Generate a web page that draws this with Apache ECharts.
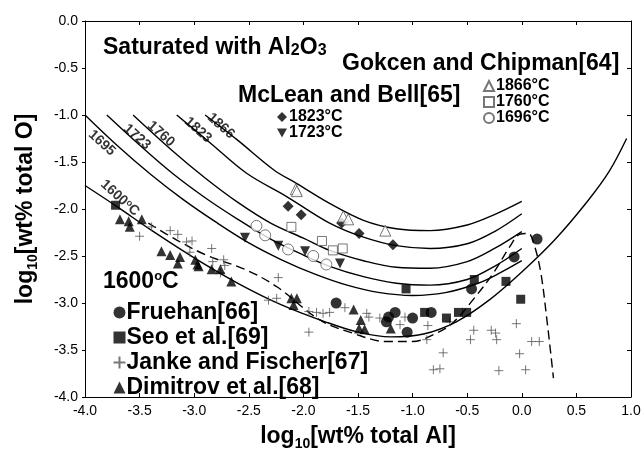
<!DOCTYPE html>
<html>
<head>
<meta charset="utf-8">
<script src="https://cdn.jsdelivr.net/npm/echarts@6/dist/echarts.min.js"></script>
<style>
  html, body { margin: 0; padding: 0; background: #fff; }
  #chart { width: 644px; height: 449px; }
</style>
</head>
<body>
<div id="chart"></div>
<script>
// Iso-temperature curves of Al2O3 deoxidation equilibrium: [log Al, log O]
const curve1866 = [[-2.90,-1.0],[-2.60,-1.27],[-2.27,-1.585],[-2.06,-1.73],[-1.76,-1.94],[-1.45,-2.12],[-1.15,-2.21],[-0.84,-2.23],[-0.50,-2.17],[-0.25,-2.06],[0.0,-1.92]];
const curve1823 = [[-3.16,-1.0],[-2.85,-1.30],[-2.52,-1.62],[-2.15,-1.87],[-1.76,-2.15],[-1.45,-2.30],[-1.15,-2.39],[-0.84,-2.42],[-0.50,-2.37],[-0.25,-2.24],[0.0,-2.05]];
const curve1760 = [[-3.56,-1.0],[-3.20,-1.38],[-2.90,-1.67],[-2.60,-1.93],[-2.30,-2.15],[-2.00,-2.31],[-1.76,-2.44],[-1.45,-2.55],[-1.15,-2.62],[-0.84,-2.63],[-0.50,-2.56],[-0.25,-2.42],[0.0,-2.24]];
const curve1723 = [[-3.80,-1.0],[-3.50,-1.32],[-3.20,-1.62],[-2.90,-1.88],[-2.60,-2.11],[-2.30,-2.32],[-2.00,-2.49],[-1.76,-2.61],[-1.45,-2.72],[-1.15,-2.79],[-0.84,-2.81],[-0.50,-2.75],[-0.25,-2.61],[0.0,-2.42]];
const curve1695 = [[-4.00,-1.0],[-3.70,-1.33],[-3.40,-1.63],[-3.10,-1.90],[-2.80,-2.14],[-2.50,-2.36],[-2.20,-2.54],[-1.90,-2.69],[-1.60,-2.81],[-1.30,-2.89],[-1.00,-2.92],[-0.70,-2.89],[-0.40,-2.79],[-0.20,-2.68],[0.0,-2.55]];
const curve1600 = [[-4.00,-1.75],[-3.70,-1.98],[-3.40,-2.22],[-3.00,-2.52],[-2.60,-2.79],[-2.20,-3.02],[-1.80,-3.20],[-1.50,-3.31],[-1.20,-3.36],[-0.90,-3.33],[-0.60,-3.20],[-0.30,-2.97],[0.0,-2.67],[0.30,-2.33],[0.60,-1.92],[0.80,-1.60],[0.96,-1.25]];
// Dashed curve (complex deoxidation model, 1600 C)
const curveDashed = [[-3.42,-2.15],[-3.16,-2.33],[-2.89,-2.49],[-2.52,-2.65],[-2.24,-2.83],[-1.85,-3.18],[-1.55,-3.32],[-1.24,-3.41],[-1.00,-3.41],[-0.78,-3.32],[-0.63,-3.21],[-0.45,-2.97],[-0.26,-2.68],[-0.11,-2.40],[-0.02,-2.27],[0.06,-2.26],[0.10,-2.33],[0.17,-2.65],[0.23,-3.18],[0.29,-3.80]];

// Measured data
const fruehan = [[-1.70,-3.00],[-1.22,-3.15],[-1.16,-3.10],[-1.24,-3.20],[-1.00,-3.16],[-1.05,-3.31],[-0.83,-3.10],[-0.46,-2.85],[-0.07,-2.51],[0.14,-2.32]];
const seo = [[-3.72,-1.96],[-1.06,-2.85],[-0.89,-3.10],[-0.69,-3.16],[-0.58,-3.10],[-0.505,-3.10],[-0.435,-2.75],[-0.145,-2.77],[-0.01,-2.96]];
const janke = [[-3.39,-2.19],[-3.50,-2.29],[-3.22,-2.23],[-3.15,-2.27],[-3.07,-2.35],[-3.02,-2.34],[-2.84,-2.42],[-3.04,-2.46],[-2.83,-2.56],[-2.73,-2.54],[-2.72,-2.60],[-2.76,-2.68],[-2.23,-2.73],[-2.32,-2.97],[-2.245,-2.95],[-1.95,-3.09],[-1.88,-3.10],[-1.82,-3.11],[-1.76,-3.10],[-1.95,-3.31],[-1.62,-3.05],[-1.42,-3.11],[-1.40,-3.15],[-1.30,-3.16],[-1.115,-3.23],[-1.07,-3.15],[-0.86,-3.24],[-0.87,-3.39],[-0.66,-3.20],[-0.44,-3.29],[-0.47,-3.39],[-0.28,-3.29],[-0.24,-3.32],[-0.23,-3.39],[-0.05,-3.22],[0.09,-3.41],[0.16,-3.41],[-0.02,-3.54],[-0.72,-3.53],[-0.81,-3.71],[-0.75,-3.70],[-0.21,-3.72],[0.035,-3.71]];
const dimitrov = [[-3.68,-2.11],[-3.60,-2.13],[-3.59,-2.19],[-3.48,-2.11],[-3.30,-2.45],[-3.22,-2.49],[-3.13,-2.51],[-3.15,-2.58],[-2.99,-2.54],[-2.97,-2.59],[-2.96,-2.61],[-2.84,-2.64],[-2.76,-2.64],[-2.66,-2.77],[-2.11,-2.95],[-2.06,-2.95],[-2.09,-3.02],[-1.54,-3.07],[-1.475,-3.18],[-1.49,-3.27],[-1.44,-3.28],[-1.20,-3.27]];
const mclean1823 = [[-2.14,-1.97],[-2.02,-2.06],[-1.65,-2.15],[-1.49,-2.26],[-1.18,-2.38]];
const mclean1723 = [[-2.535,-2.305],[-2.23,-2.39],[-1.985,-2.45],[-1.665,-2.58]];
const gokcen1866 = [[-2.07,-1.79],[-2.06,-1.81],[-1.635,-2.08],[-1.59,-2.11],[-1.25,-2.23]];
const gokcen1760 = [[-2.11,-2.19],[-1.83,-2.34],[-1.73,-2.44],[-1.64,-2.42]];
const gokcen1696 = [[-2.43,-2.18],[-2.35,-2.28],[-2.14,-2.43],[-1.91,-2.50],[-1.79,-2.59]];

// Curve labels: [log Al, log O, text]
const curveLabels = [[-2.755,-1.117,'1866'],[-2.965,-1.16,'1823'],[-3.304,-1.202,'1760'],[-3.524,-1.234,'1723'],[-3.846,-1.298,'1695'],[-3.68,-1.883,'1600{sup|o}C']];

const xTicks = { min: -4, max: 1, step: 0.5 };
const yTicks = { min: -4, max: 0, step: 0.5 };

const FONT = 'Liberation Sans, Arial, sans-serif';
const PLUS = 'path://M0,5L10,5M5,0L5,10';
const DOWN_TRIANGLE = 'path://M0,0L10,0L5,9Z';

function lineSeries(data, dashed) {
  return {
    type: 'line', data: data, smooth: 0.35, symbol: 'none', silent: true,
    lineStyle: { color: '#000', width: 1.4, type: dashed ? [9, 5] : 'solid' },
    z: 2
  };
}

function scatter(name, data, symbol, size, filled, extra) {
  const s = {
    name: name, type: 'scatter', data: data, symbol: symbol, symbolSize: size,
    itemStyle: filled ? { color: '#000' } : { color: '#fff', borderColor: '#555', borderWidth: 1 },
    z: 5
  };
  return Object.assign(s, extra || {});
}

const chart = echarts.init(document.getElementById('chart'));
const tickFmt = v => v.toFixed(1);
const nameStyle = {
  fontFamily: FONT, fontSize: 23, fontWeight: 'bold', color: '#000', lineHeight: 28,
  rich: { sub: { fontFamily: FONT, fontSize: 14, fontWeight: 'bold', verticalAlign: 'bottom', lineHeight: 14 } }
};
const frame = { onZero: false, lineStyle: { color: '#000', width: 1 } };

const option = {
  animation: false,
  backgroundColor: '#fff',
  grid: { left: 85, top: 21, right: 13, bottom: 52, containLabel: false, outerBoundsMode: 'none' },
  xAxis: [{
    type: 'value', min: xTicks.min, max: xTicks.max, interval: xTicks.step,
    name: 'log{sub|10}[wt% total Al]', nameLocation: 'middle', nameGap: 24, nameTextStyle: nameStyle,
    axisLine: frame,
    axisTick: { inside: true, length: 4, lineStyle: { color: '#000' } },
    axisLabel: { formatter: tickFmt, fontFamily: FONT, fontSize: 14, color: '#000', margin: 7 },
    splitLine: { show: false }
  }, {
    type: 'value', position: 'top', min: xTicks.min, max: xTicks.max, interval: xTicks.step,
    axisLine: frame,
    axisTick: { inside: true, length: 4, lineStyle: { color: '#000' } },
    axisLabel: { show: false }, splitLine: { show: false }
  }],
  yAxis: [{
    type: 'value', min: yTicks.min, max: yTicks.max, interval: yTicks.step,
    name: 'log{sub|10}[wt% total O]', nameLocation: 'middle', nameGap: 45, nameRotate: 90, nameTextStyle: nameStyle,
    axisLine: frame,
    axisTick: { inside: false, length: 3, lineStyle: { color: '#000' } },
    axisLabel: { formatter: tickFmt, fontFamily: FONT, fontSize: 14, color: '#000', margin: 7 },
    splitLine: { show: false }
  }, {
    type: 'value', position: 'right', min: yTicks.min, max: yTicks.max, interval: yTicks.step,
    axisLine: frame,
    axisTick: { inside: true, length: 4, lineStyle: { color: '#000' } },
    axisLabel: { show: false }, splitLine: { show: false }
  }],
  legend: [{
    data: ['1866°C', '1760°C', '1696°C'], orient: 'vertical', left: 483, top: 78,
    itemWidth: 10, itemHeight: 10, itemGap: 0, padding: 0,
    textStyle: { fontFamily: FONT, fontSize: 16, fontWeight: 'bold', color: '#000', lineHeight: 15, padding: [0, 0, 0, -3] }
  }, {
    data: ['1823°C', { name: '1723°C', icon: DOWN_TRIANGLE }], orient: 'vertical', left: 277, top: 109,
    itemWidth: 10, itemHeight: 10, itemGap: 0, padding: 0,
    textStyle: { fontFamily: FONT, fontSize: 16, fontWeight: 'bold', color: '#000', lineHeight: 13, padding: [0, 0, 0, -3] }
  }, {
    data: ['Fruehan[66]', 'Seo et al.[69]', 'Janke and Fischer[67]', 'Dimitrov et al.[68]'],
    orient: 'vertical', left: 111, top: 300,
    itemWidth: 12, itemHeight: 12, itemGap: 0, padding: 0,
    textStyle: { fontFamily: FONT, fontSize: 23, fontWeight: 'bold', color: '#000', lineHeight: 25, padding: [0, 0, 0, -4] }
  }],
  graphic: [{
    type: 'text', left: 103, top: 36,
    style: { text: 'Saturated with Al{sub|2}O{sub|3}', font: 'bold 23px ' + FONT, fill: '#000',
      rich: { sub: { fontSize: 16, fontWeight: 'bold', fontFamily: FONT, verticalAlign: 'bottom', lineHeight: 16 } } }
  }, {
    type: 'text', left: 342, top: 52,
    style: { text: 'Gokcen and Chipman[64]', font: 'bold 23px ' + FONT, fill: '#000' }
  }, {
    type: 'text', left: 238, top: 84,
    style: { text: 'McLean and Bell[65]', font: 'bold 23px ' + FONT, fill: '#000' }
  }, {
    type: 'text', left: 103, top: 270,
    style: { text: '1600{sup|o}C', font: 'bold 23px ' + FONT, fill: '#000',
      rich: { sup: { fontSize: 13, fontWeight: 'bold', fontFamily: FONT, verticalAlign: 'top', lineHeight: 13 } } }
  }],
  series: [
    lineSeries(curve1866), lineSeries(curve1823), lineSeries(curve1760),
    lineSeries(curve1723), lineSeries(curve1695), lineSeries(curve1600),
    lineSeries(curveDashed, true),
    {
      type: 'scatter', silent: true, symbolSize: 1, itemStyle: { color: 'rgba(0,0,0,0)' }, z: 4,
      data: curveLabels.map(d => ({ value: [d[0], d[1]], name: d[2] })),
      label: { show: true, position: 'inside', formatter: '{b}', rotate: -42,
        fontFamily: FONT, fontSize: 14, fontWeight: 'bold', color: '#000',
        rich: { sup: { fontSize: 9, fontWeight: 'bold', fontFamily: FONT, verticalAlign: 'top', lineHeight: 9 } } }
    },
    scatter('Janke and Fischer[67]', janke, PLUS, 9, false, { itemStyle: { color: 'none', borderColor: '#555', borderWidth: 1 } }),
    scatter('Fruehan[66]', fruehan, 'circle', 11, true),
    scatter('Seo et al.[69]', seo, 'rect', 9, true),
    scatter('Dimitrov et al.[68]', dimitrov, 'triangle', 10, true),
    scatter('1823°C', mclean1823, 'diamond', [11, 11], true),
    scatter('1723°C', mclean1723, 'triangle', 10, true, { symbolRotate: 180 }),
    scatter('1866°C', gokcen1866, 'triangle', 11, false),
    scatter('1760°C', gokcen1760, 'rect', 9, false),
    scatter('1696°C', gokcen1696, 'circle', 11, false)
  ]
};
chart.setOption(option);
</script>
</body>
</html>
